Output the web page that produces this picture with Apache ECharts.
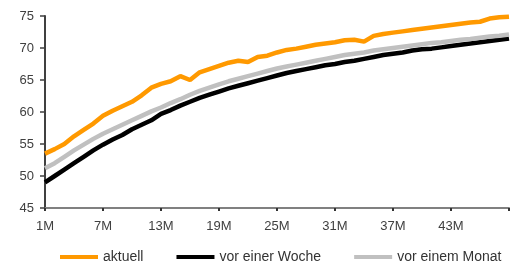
<!DOCTYPE html>
<html>
<head>
<meta charset="utf-8">
<script src="https://cdn.jsdelivr.net/npm/echarts@6/dist/echarts.min.js"></script>
<style>
  html, body { margin: 0; padding: 0; background: #fff; }
  #chart { width: 518px; height: 275px; }
</style>
</head>
<body>
<div id="chart"></div>
<script>
// Laufzeiten 1M .. 49M
var months = [];
for (var m = 1; m <= 49; m++) months.push(m + "M");

var aktuell = [
  53.5, 54.2, 55.0, 56.2, 57.2, 58.2, 59.4, 60.2, 60.9, 61.6,
  62.6, 63.8, 64.4, 64.8, 65.6, 65.0, 66.2, 66.7, 67.2, 67.7,
  68.0, 67.8, 68.6, 68.8, 69.3, 69.7, 69.9, 70.2, 70.5, 70.7,
  70.9, 71.2, 71.3, 71.0, 71.9, 72.2, 72.4, 72.6, 72.8, 73.0,
  73.2, 73.4, 73.6, 73.8, 74.0, 74.1, 74.6, 74.8, 74.9
];
var vorEinerWoche = [
  49.0, 50.0, 51.0, 52.0, 53.0, 54.0, 54.9, 55.7, 56.4, 57.3,
  58.0, 58.7, 59.7, 60.3, 61.0, 61.6, 62.2, 62.7, 63.2, 63.7,
  64.1, 64.5, 64.9, 65.3, 65.7, 66.1, 66.4, 66.7, 67.0, 67.3,
  67.5, 67.8, 68.0, 68.3, 68.6, 68.9, 69.1, 69.3, 69.6, 69.8,
  69.9, 70.1, 70.3, 70.5, 70.7, 70.9, 71.1, 71.3, 71.5
];
var vorEinemMonat = [
  51.2, 52.0, 53.0, 54.0, 54.9, 55.8, 56.6, 57.3, 58.0, 58.7,
  59.4, 60.1, 60.7, 61.4, 62.0, 62.7, 63.3, 63.8, 64.3, 64.8,
  65.2, 65.6, 66.0, 66.4, 66.8, 67.1, 67.4, 67.7, 68.0, 68.3,
  68.6, 68.9, 69.1, 69.3, 69.6, 69.8, 70.0, 70.2, 70.4, 70.6,
  70.8, 70.9, 71.1, 71.3, 71.4, 71.6, 71.8, 71.9, 72.1
];

var myChart = echarts.init(document.getElementById("chart"));
var font = "Liberation Sans, Arial, sans-serif";

var option = {
  animation: false,
  textStyle: { fontFamily: font },
  grid: { left: 45, right: 9, top: 16, bottom: 67 },
  legend: {
    bottom: 6,
    left: 55,
    icon: "rect",
    itemWidth: 38,
    itemHeight: 4,
    itemGap: 33,
    textStyle: { fontSize: 14, color: "#333", fontFamily: font },
    data: ["aktuell", "vor einer Woche", "vor einem Monat"]
  },
  xAxis: {
    type: "category",
    boundaryGap: false,
    data: months,
    axisLine: { lineStyle: { color: "#808080", width: 2 } },
    axisTick: { interval: 5, length: 3, lineStyle: { color: "#333", width: 2 } },
    axisLabel: {
      interval: function (i) { return i % 6 === 0 && i < 48; },
      margin: 12,
      fontSize: 13,
      color: "#404040"
    },
    splitLine: { show: false }
  },
  yAxis: {
    type: "value",
    min: 45,
    max: 75,
    interval: 5,
    axisLine: { show: true, lineStyle: { color: "#404040", width: 2 } },
    axisTick: { show: true, length: 5, lineStyle: { color: "#404040", width: 1.5 } },
    axisLabel: { margin: 11, fontSize: 13, color: "#404040" },
    splitLine: { show: false }
  },
  series: [
    {
      name: "vor einer Woche",
      type: "line",
      data: vorEinerWoche,
      showSymbol: false,
      color: "#000000",
      lineStyle: { width: 4.5 }
    },
    {
      name: "vor einem Monat",
      type: "line",
      data: vorEinemMonat,
      showSymbol: false,
      color: "#c0c0c0",
      lineStyle: { width: 4.5 }
    },
    {
      name: "aktuell",
      type: "line",
      data: aktuell,
      showSymbol: false,
      color: "#ff9900",
      lineStyle: { width: 4.5 }
    }
  ]
};
myChart.setOption(option);
</script>
</body>
</html>
